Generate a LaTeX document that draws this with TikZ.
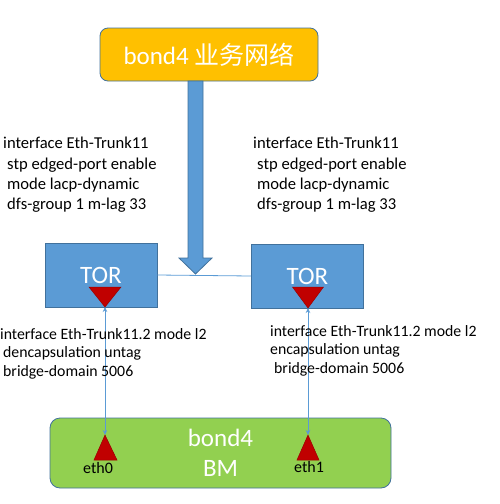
\documentclass[tikz,border=0pt]{standalone}
\usepackage{fontspec}
\setmainfont{Carlito}
\newfontfamily\cjk{Noto Sans CJK SC}
\usetikzlibrary{arrows.meta, positioning}

\definecolor{netorange}{HTML}{FFC000}
\definecolor{torblue}{HTML}{5B9BD5}
\definecolor{edgeblue}{HTML}{41719C}
\definecolor{bmgreen}{HTML}{92D050}
\definecolor{portred}{HTML}{C00000}

\begin{document}
\begin{tikzpicture}[
  x=1pt, y=-1pt,
  box/.style={draw=edgeblue, line width=0.8pt, text=white, inner sep=0pt,
             font=\fontsize{25}{30}\selectfont},
  netbox/.style={box, fill=netorange, rounded corners=8pt,
             minimum width=218pt, minimum height=53pt},
  torbox/.style={box, fill=torblue, minimum width=112pt, minimum height=64pt},
  bmbox/.style={box, fill=bmgreen, rounded corners=10pt, align=center,
             minimum width=341pt, minimum height=70pt},
  cfg/.style={font=\fontsize{16.6}{20.3}\selectfont, align=left, anchor=north west, inner sep=0pt},
  subcfg/.style={cfg, font=\fontsize{15.8}{18.7}\selectfont},
  portlbl/.style={font=\fontsize{16}{19}\selectfont, inner sep=0pt},
  port/.style={fill=portred, draw=portred!80!black, line width=0.5pt},
  bigarrow/.style={fill=torblue, draw=edgeblue, line width=0.8pt},
  peer/.style={draw=torblue, line width=0.8pt},
  link/.style={{Stealth[length=5pt,width=4.5pt]}-{Stealth[length=5pt,width=4.5pt]},
             draw=torblue, line width=0.8pt}
]
\useasboundingbox (0,0) rectangle (500,504);

% boxes
\node[netbox] (net) at (209,54.5) {bond4 {\cjk 业务网络}};
\node[torbox] (ltor) at (101,275) {TOR};
\node[torbox] (rtor) at (307.5,276) {TOR};
\node[bmbox] (bm) at (220.5,453) {bond4\\BM};

% peer link and uplink
\draw[peer] (ltor.east) -- (rtor.west);
\coordinate (tip) at (195.5,274);
\draw[bigarrow] (tip) -- (212,258) -- (203,258) -- (203,81) -- (188,81) -- (188,258) -- (179,258) -- cycle;

% ports
\path[port] (89,287) -- (121,287) -- (105,307) coordinate (ltp) -- cycle;
\path[port] (292.5,287) -- (323.5,287) -- (308,308) coordinate (rtp) -- cycle;
\path[port] (94,460) -- (117,460) -- (105,435) coordinate (lbp) -- cycle;
\path[port] (297,460) -- (319,460) -- (308,435) coordinate (rbp) -- cycle;
\node[portlbl] (eth0) at (98,468) {eth0};
\node[portlbl] (eth1) at (309,467) {eth1};

\draw[link] (ltp) -- (lbp);
\draw[link] (rtp) -- (rbp);

% configuration
\node[cfg] (lcfg) at (3,137) {interface Eth-Trunk11\\
  \hspace{4pt}stp edged-port enable\\
  \hspace{4pt}mode lacp-dynamic\\
  \hspace{4pt}dfs-group 1 m-lag 33};
\node[cfg] (rcfg) at (253,137) {interface Eth-Trunk11\\
  \hspace{4pt}stp edged-port enable\\
  \hspace{4pt}mode lacp-dynamic\\
  \hspace{4pt}dfs-group 1 m-lag 33};
\node[subcfg] (lsub) at (0,328) {interface Eth-Trunk11.2 mode l2\\
  \hspace{3pt}dencapsulation untag\\
  \hspace{3pt}bridge-domain 5006};
\node[subcfg] (rsub) at (270,325) {interface Eth-Trunk11.2 mode l2\\
  encapsulation untag\\
  \hspace{4pt}bridge-domain 5006};

\end{tikzpicture}
\end{document}
